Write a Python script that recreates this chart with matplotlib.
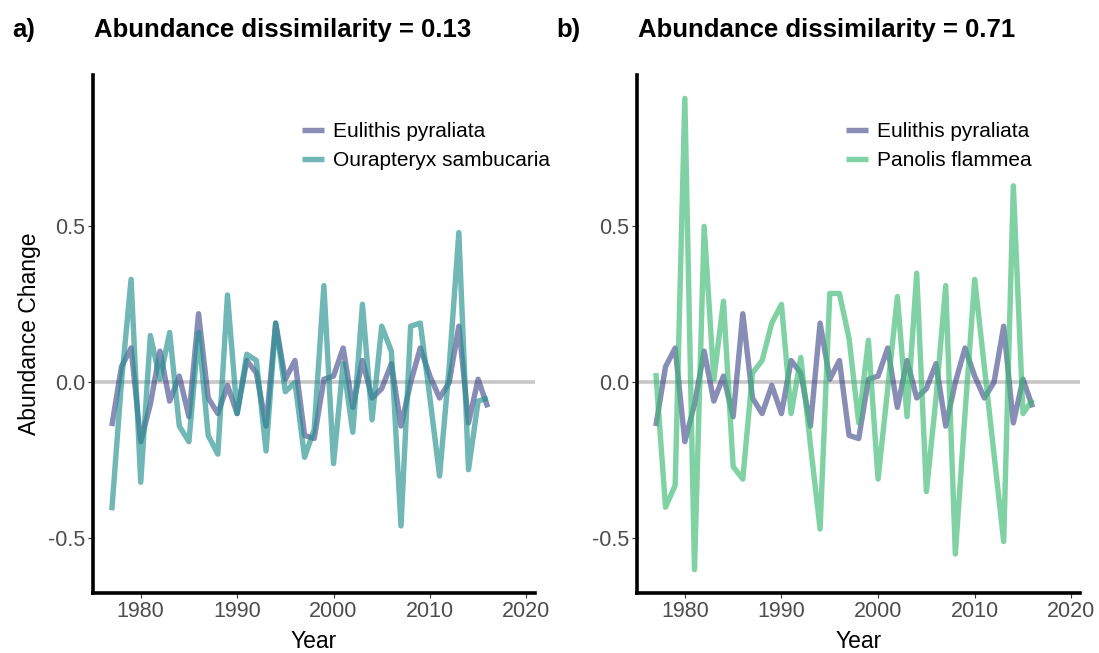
import matplotlib
matplotlib.use("Agg")
import matplotlib.pyplot as plt
import matplotlib as mpl

# Data
years = [1977, 1978, 1979, 1980, 1981, 1982, 1983, 1984, 1985, 1986,
         1987, 1988, 1989, 1990, 1991, 1992, 1993, 1994, 1995, 1996,
         1997, 1998, 1999, 2000, 2001, 2002, 2003, 2004, 2005, 2006,
         2007, 2008, 2009, 2010, 2011, 2012, 2013, 2014, 2015, 2016]
eulithis = [-0.14, 0.05, 0.11, -0.19, -0.07, 0.10, -0.06, 0.02, -0.11, 0.22,
            -0.05, -0.10, -0.01, -0.10, 0.07, 0.03, -0.14, 0.19, 0.01, 0.07,
            -0.17, -0.18, 0.01, 0.02, 0.11, -0.08, 0.07, -0.05, -0.02, 0.06,
            -0.14, 0.00, 0.11, 0.02, -0.05, 0.00, 0.18, -0.13, 0.01, -0.08]
ourapteryx = [-0.41, 0.00, 0.33, -0.32, 0.15, 0.01, 0.16, -0.14, -0.19, 0.16,
              -0.17, -0.23, 0.28, -0.10, 0.09, 0.07, -0.22, 0.19, -0.03, 0.00,
              -0.24, -0.15, 0.31, -0.26, 0.06, -0.16, 0.25, -0.12, 0.18, 0.10,
              -0.46, 0.18, 0.19, -0.05, -0.30, 0.05, 0.48, -0.28, -0.06, -0.05]
panolis = [0.03, -0.40, -0.33, 0.91, -0.60, 0.50, 0.01, 0.26, -0.27, -0.31,
           0.03, 0.07, 0.19, 0.25, -0.10, 0.08, -0.20, -0.47, 0.285, 0.285,
           0.14, -0.13, 0.135, -0.31, -0.02, 0.275, -0.11, 0.35, -0.35, -0.05,
           0.31, -0.55, -0.10, 0.33, 0.05, -0.23, -0.51, 0.63, -0.10, -0.055]

panels = [
    ("a)", "Abundance dissimilarity = 0.13", "Ourapteryx sambucaria", ourapteryx, "#23918F"),
    ("b)", "Abundance dissimilarity = 0.71", "Panolis flammea", panolis, "#3CBB75"),
]
xticks = [1980, 1990, 2000, 2010, 2020]
yticks = [-0.5, 0.0, 0.5]

mpl.rcParams["font.family"] = ["Liberation Sans", "DejaVu Sans"]
mpl.rcParams["axes.unicode_minus"] = False

W, H = 1099, 653
fig = plt.figure(figsize=(W / 100, H / 100), dpi=100)

# axes boxes in pixels: left, right, top, bottom
boxes = [(93, 535, 75, 593), (637, 1080, 75, 593)]
tag_x = [12, 556]

for i, (tag, title, name, values, col) in enumerate(panels):
    l, r, t, b = boxes[i]
    ax = fig.add_axes([l / W, 1 - b / H, (r - l) / W, (b - t) / H])
    ax.axhline(0, color="#999999", alpha=0.55, lw=2.6, zorder=1)
    ax.plot(years, eulithis, color="#404788", alpha=0.62, lw=3.9,
            label="Eulithis pyraliata", solid_capstyle="butt", zorder=2)
    ax.plot(years, values, color=col, alpha=0.65, lw=3.9,
            label=name, solid_capstyle="butt", zorder=3)
    ax.set_xlim(1975.05, 2020.9)
    ax.set_ylim(-0.675, 0.985)
    ax.set_xticks(xticks)
    ax.set_yticks(yticks)
    ax.set_yticklabels(["-0.5", "0.0", "0.5"])
    for s in ["top", "right"]:
        ax.spines[s].set_visible(False)
    for s in ["left", "bottom"]:
        ax.spines[s].set_linewidth(2.6)
        ax.spines[s].set_color("black")
    ax.tick_params(length=3.5, width=0.8, color="#333333",
                   labelcolor="#4D4D4D", labelsize=15.5, pad=2)
    ax.legend(loc="upper left", bbox_to_anchor=((l + 209) / W, 1 - 122 / H),
              bbox_transform=fig.transFigure, frameon=False, fontsize=15,
              handlelength=1.05, handletextpad=0.45, labelspacing=0.5,
              borderaxespad=0, borderpad=0)
    fig.text(tag_x[i] / W, 1 - 30 / H, tag, fontsize=18.5, fontweight="bold",
             va="center", ha="left")
    fig.text((l + 1) / W, 1 - 30 / H, title, fontsize=18.5, fontweight="bold",
             va="center", ha="left")
    fig.text(((l + r) / 2) / W, 1 - 642 / H, "Year", fontsize=16.5,
             va="center", ha="center")

fig.text(30 / W, 1 - 334 / H, "Abundance Change", fontsize=16.5,
         rotation=90, va="center", ha="center")

fig.savefig("out.png", dpi=100)
